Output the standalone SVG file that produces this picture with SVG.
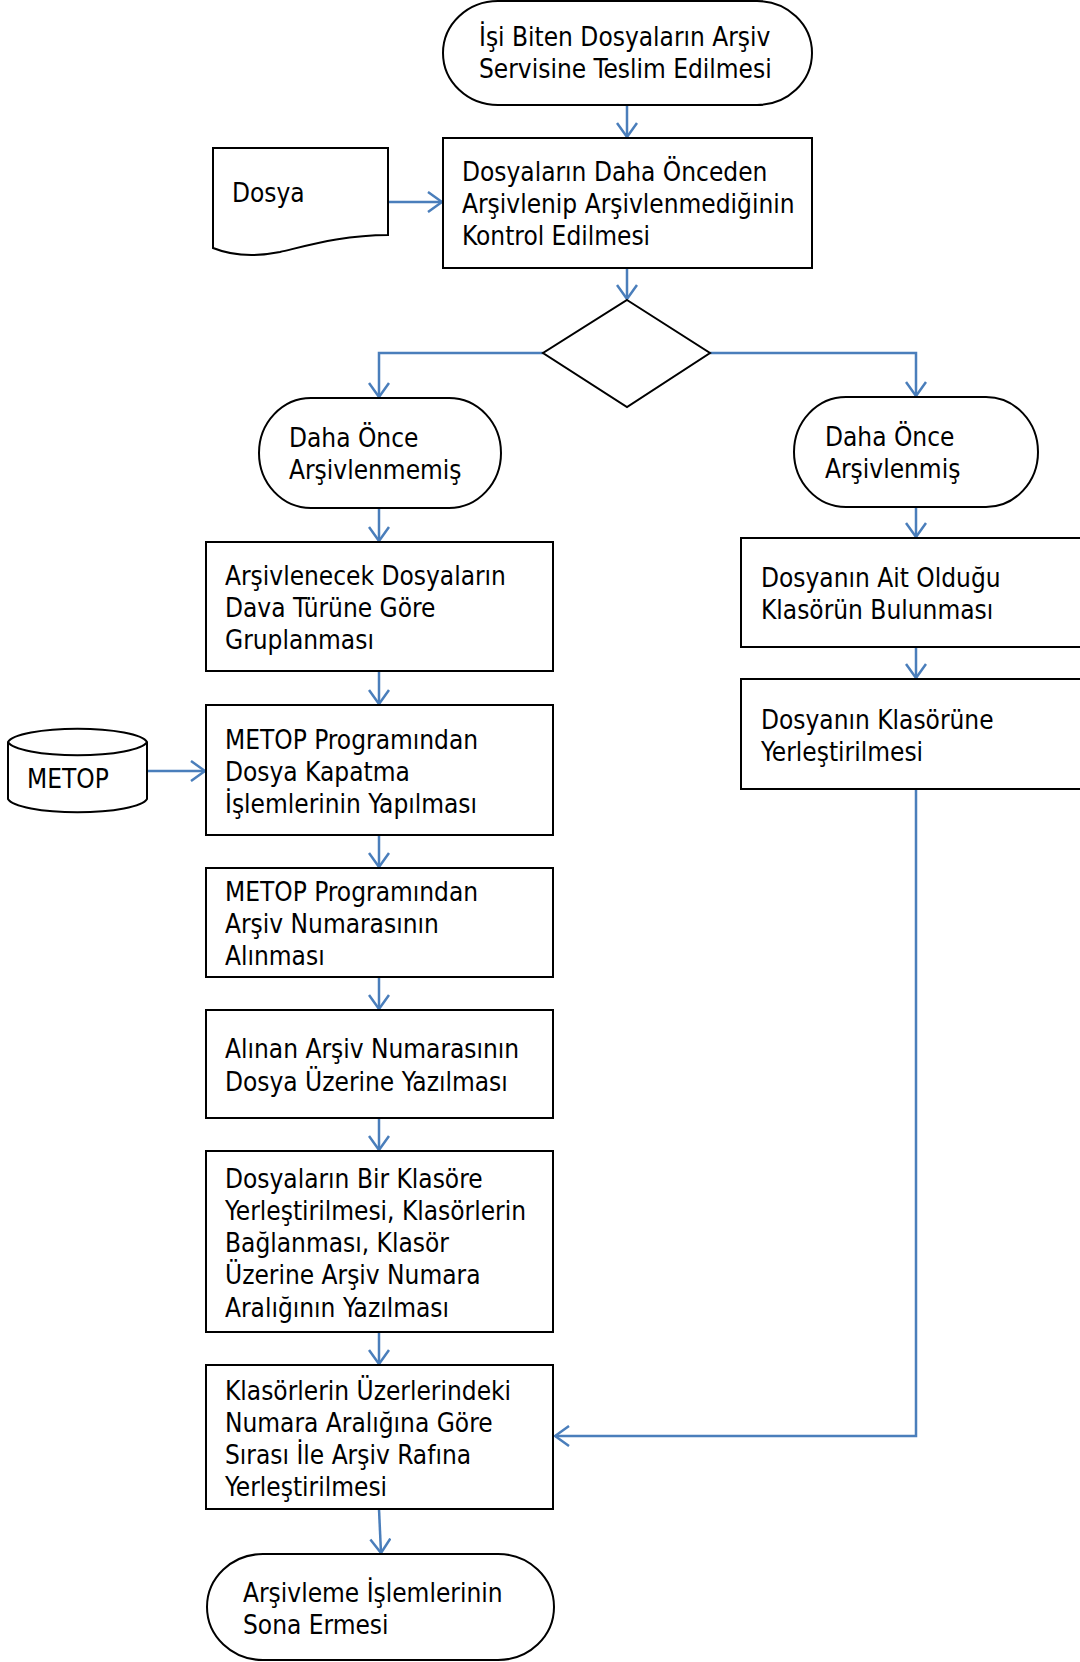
<svg xmlns="http://www.w3.org/2000/svg" width="1080" height="1662" viewBox="0 0 1080 1662">
<defs>
<style>
.shape{fill:#fff;stroke:#000;stroke-width:2}
.t{font-family:"DejaVu Sans Condensed","DejaVu Sans",sans-serif;font-size:26px;fill:#000}
.c{fill:none;stroke:#4a7ebb;stroke-width:2.5}
</style>
<marker id="arr" viewBox="0 0 16 22" refX="15" refY="11" markerWidth="16" markerHeight="22" markerUnits="userSpaceOnUse" orient="auto">
<path d="M1,1 L15,11 L1,21" fill="none" stroke="#4a7ebb" stroke-width="2.5"/>
</marker>
</defs>
<rect width="1080" height="1662" fill="#fff"/>
<g id="connectors">
<path class="c" d="M627,105 V137" marker-end="url(#arr)"/>
<path class="c" d="M388,202 H442" marker-end="url(#arr)"/>
<path class="c" d="M627,268 V299" marker-end="url(#arr)"/>
<path class="c" d="M543,353 H379 V397" marker-end="url(#arr)"/>
<path class="c" d="M710,353 H916 V396" marker-end="url(#arr)"/>
<path class="c" d="M379,508 V541" marker-end="url(#arr)"/>
<path class="c" d="M916,507 V537" marker-end="url(#arr)"/>
<path class="c" d="M916,647 V678" marker-end="url(#arr)"/>
<path class="c" d="M379,671 V704" marker-end="url(#arr)"/>
<path class="c" d="M147,771 H205" marker-end="url(#arr)"/>
<path class="c" d="M379,835 V867" marker-end="url(#arr)"/>
<path class="c" d="M379,977 V1009" marker-end="url(#arr)"/>
<path class="c" d="M379,1118 V1150" marker-end="url(#arr)"/>
<path class="c" d="M379,1332 V1364" marker-end="url(#arr)"/>
<path class="c" d="M379,1509 L381,1553" marker-end="url(#arr)"/>
<path class="c" d="M916,789 V1436 H555" marker-end="url(#arr)"/>
</g>
<g id="start">
<rect class="shape" x="443" y="1" width="369" height="104" rx="55" ry="52"/>
<text class="t" x="479" y="46">İşi Biten Dosyaların Arşiv</text>
<text class="t" x="479" y="78">Servisine Teslim Edilmesi</text>
</g>
<g id="control">
<rect class="shape" x="443" y="138" width="369" height="130"/>
<text class="t" x="462" y="181">Dosyaların Daha Önceden</text>
<text class="t" x="462" y="213">Arşivlenip Arşivlenmediğinin</text>
<text class="t" x="462" y="245">Kontrol Edilmesi</text>
</g>
<g id="dosya">
<path class="shape" d="M213,148 H388 V235 C345,235 310,245 280,252 C250,258 228,254 213,248 Z"/>
<text class="t" x="232" y="202">Dosya</text>
</g>
<g id="decision">
<polygon class="shape" points="627,300 710,353 627,407 543,353"/>
</g>
<g id="notArchived">
<rect class="shape" x="259" y="398" width="242" height="110" rx="52" ry="55"/>
<text class="t" x="289" y="447">Daha Önce</text>
<text class="t" x="289" y="479">Arşivlenmemiş</text>
</g>
<g id="archived">
<rect class="shape" x="794" y="397" width="244" height="110" rx="52" ry="55"/>
<text class="t" x="825" y="446">Daha Önce</text>
<text class="t" x="825" y="478">Arşivlenmiş</text>
</g>
<g id="group">
<rect class="shape" x="206" y="542" width="347" height="129"/>
<text class="t" x="225" y="585">Arşivlenecek Dosyaların</text>
<text class="t" x="225" y="617">Dava Türüne Göre</text>
<text class="t" x="225" y="649">Gruplanması</text>
</g>
<g id="findFolder">
<rect class="shape" x="741" y="538" width="345" height="109"/>
<text class="t" x="761" y="587">Dosyanın Ait Olduğu</text>
<text class="t" x="761" y="619">Klasörün Bulunması</text>
</g>
<g id="placeFolder">
<rect class="shape" x="741" y="679" width="345" height="110"/>
<text class="t" x="761" y="729">Dosyanın Klasörüne</text>
<text class="t" x="761" y="761">Yerleştirilmesi</text>
</g>
<g id="metopDb">
<path class="shape" d="M8,742 A70,15 0 0 1 147,742 V799 A70,15 0 0 1 8,799 Z"/>
<path class="shape" d="M8,742 A70,15 0 0 0 147,742" fill="none"/>
<text class="t" x="27" y="788">METOP</text>
</g>
<g id="closeFile">
<rect class="shape" x="206" y="705" width="347" height="130"/>
<text class="t" x="225" y="749">METOP Programından</text>
<text class="t" x="225" y="781">Dosya Kapatma</text>
<text class="t" x="225" y="813">İşlemlerinin Yapılması</text>
</g>
<g id="getNumber">
<rect class="shape" x="206" y="868" width="347" height="109"/>
<text class="t" x="225" y="901">METOP Programından</text>
<text class="t" x="225" y="933">Arşiv Numarasının</text>
<text class="t" x="225" y="965">Alınması</text>
</g>
<g id="writeNumber">
<rect class="shape" x="206" y="1010" width="347" height="108"/>
<text class="t" x="225" y="1058">Alınan Arşiv Numarasının</text>
<text class="t" x="225" y="1091">Dosya Üzerine Yazılması</text>
</g>
<g id="binder">
<rect class="shape" x="206" y="1151" width="347" height="181"/>
<text class="t" x="225" y="1188">Dosyaların Bir Klasöre</text>
<text class="t" x="225" y="1220">Yerleştirilmesi, Klasörlerin</text>
<text class="t" x="225" y="1252">Bağlanması, Klasör</text>
<text class="t" x="225" y="1284">Üzerine Arşiv Numara</text>
<text class="t" x="225" y="1317">Aralığının Yazılması</text>
</g>
<g id="shelf">
<rect class="shape" x="206" y="1365" width="347" height="144"/>
<text class="t" x="225" y="1400">Klasörlerin Üzerlerindeki</text>
<text class="t" x="225" y="1432">Numara Aralığına Göre</text>
<text class="t" x="225" y="1464">Sırası İle Arşiv Rafına</text>
<text class="t" x="225" y="1496">Yerleştirilmesi</text>
</g>
<g id="end">
<rect class="shape" x="207" y="1554" width="347" height="106" rx="56" ry="53"/>
<text class="t" x="243" y="1602">Arşivleme İşlemlerinin</text>
<text class="t" x="243" y="1634">Sona Ermesi</text>
</g>
</svg>
